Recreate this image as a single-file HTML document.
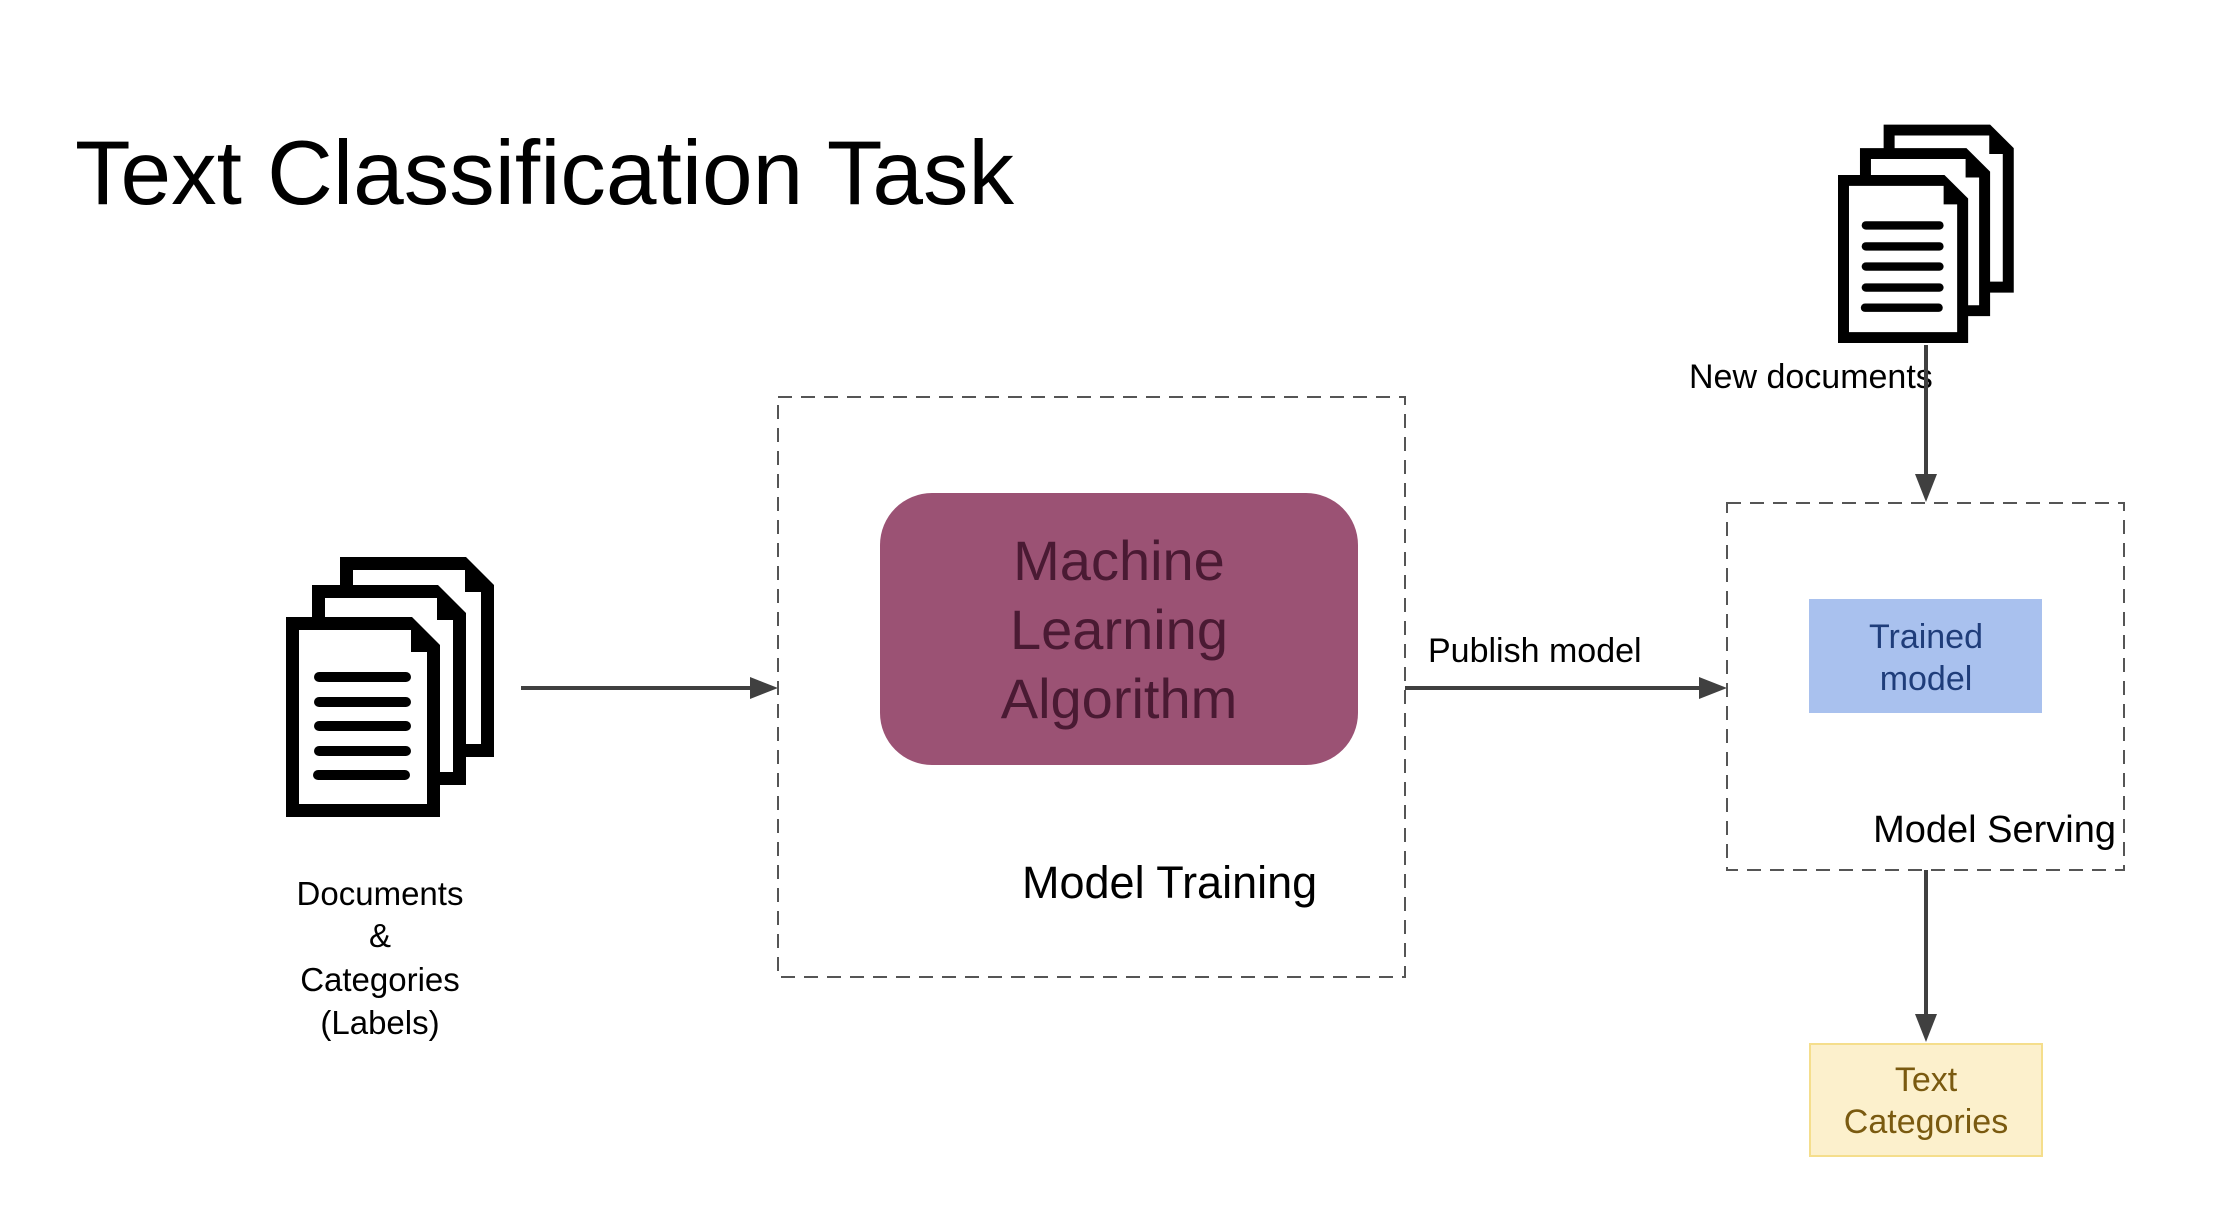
<!DOCTYPE html>
<html><head><meta charset="utf-8"><style>
html,body{margin:0;padding:0;background:#fff;}
svg{display:block;font-family:"Liberation Sans",Arial,sans-serif;}
</style></head><body>
<svg width="2214" height="1232" viewBox="0 0 2214 1232" xmlns="http://www.w3.org/2000/svg">
<defs>
<g id="pg">
  <polygon points="0,0 126,0 154,28 154,200 0,200" fill="#000"/>
  <polygon points="13,13 125,13 125,35 141,35 141,187 13,187" fill="#fff"/>
</g>
<g id="pgl">
  <use href="#pg"/>
  <g stroke="#000" stroke-width="10" stroke-linecap="round">
    <line x1="33" y1="60" x2="120" y2="60"/>
    <line x1="33" y1="85" x2="120" y2="85"/>
    <line x1="33" y1="109" x2="120" y2="109"/>
    <line x1="33" y1="134" x2="120" y2="134"/>
    <line x1="32" y1="158" x2="119" y2="158"/>
  </g>
</g>
<g id="docs">
  <use href="#pg" x="54" y="-60"/>
  <use href="#pg" x="26" y="-32"/>
  <use href="#pgl"/>
</g>
</defs>

<text x="75" y="204" font-size="91" fill="#000">Text Classification Task</text>

<use href="#docs" transform="translate(286,617)"/>
<g font-size="33" fill="#000" text-anchor="middle">
  <text x="380" y="905">Documents</text>
  <text x="380" y="947">&amp;</text>
  <text x="380" y="991">Categories</text>
  <text x="380" y="1034">(Labels)</text>
</g>

<line x1="521" y1="688" x2="752" y2="688" stroke="#404040" stroke-width="4"/>
<polygon points="778,688 750,677 750,699" fill="#404040"/>

<rect x="778" y="397" width="627" height="580" fill="none" stroke="#555" stroke-width="2" stroke-dasharray="14,9"/>
<rect x="880" y="493" width="478" height="272" rx="52" fill="#9b5274"/>
<g font-size="56" fill="#4a1a33" text-anchor="middle">
  <text x="1119" y="580">Machine</text>
  <text x="1119" y="649">Learning</text>
  <text x="1119" y="718">Algorithm</text>
</g>
<text x="1022" y="898" font-size="45" fill="#000">Model Training</text>

<text x="1428" y="662" font-size="34" fill="#000">Publish model</text>
<line x1="1405" y1="688" x2="1700" y2="688" stroke="#404040" stroke-width="4"/>
<polygon points="1727,688 1699,677 1699,699" fill="#404040"/>

<rect x="1727" y="503" width="397" height="367" fill="none" stroke="#555" stroke-width="2" stroke-dasharray="14,9"/>
<rect x="1809" y="599" width="233" height="114" fill="#a9c1ee"/>
<g font-size="34" fill="#1f3d7a" text-anchor="middle">
  <text x="1926" y="648">Trained</text>
  <text x="1926" y="690">model</text>
</g>
<text x="2116" y="842" font-size="38" fill="#000" text-anchor="end">Model Serving</text>

<use href="#docs" transform="translate(1838,175) scale(0.845,0.84)"/>
<text x="1689" y="388" font-size="34" fill="#000">New documents</text>
<line x1="1926" y1="345" x2="1926" y2="476" stroke="#404040" stroke-width="4"/>
<polygon points="1926,502 1915,474 1937,474" fill="#404040"/>

<line x1="1926" y1="870" x2="1926" y2="1016" stroke="#404040" stroke-width="4"/>
<polygon points="1926,1042 1915,1014 1937,1014" fill="#404040"/>
<rect x="1810" y="1044" width="232" height="112" fill="#fcf0cc" stroke="#f5de8c" stroke-width="2"/>
<g font-size="34" fill="#7a5a10" text-anchor="middle">
  <text x="1926" y="1091">Text</text>
  <text x="1926" y="1133">Categories</text>
</g>
</svg>
</body></html>
